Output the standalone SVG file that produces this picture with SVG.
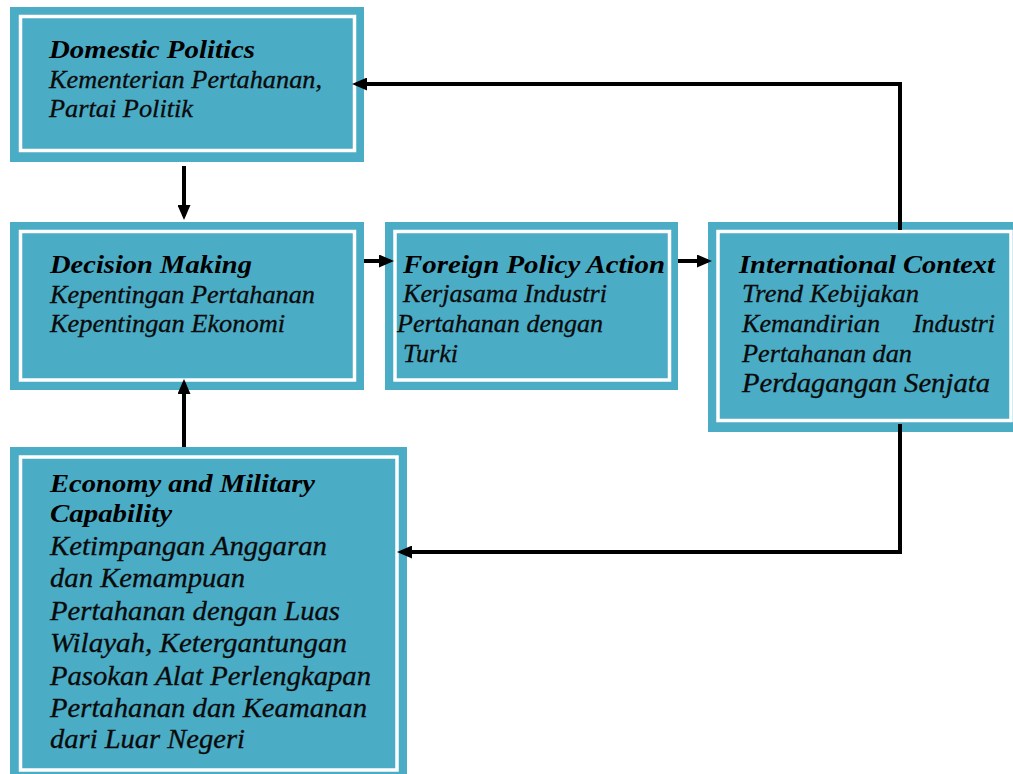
<svg xmlns="http://www.w3.org/2000/svg" width="1013" height="774" viewBox="0 0 1013 774">
  <style>
    .frame { fill: #4BACC6; }
    .inner { fill: none; stroke: #FFFFFF; stroke-width: 3.5; }
    .title { font-family: "Liberation Serif", "Times New Roman", serif; font-style: italic; font-weight: bold; font-size: 25px; fill: #000; }
    .body { font-family: "Liberation Serif", "Times New Roman", serif; font-style: italic; font-size: 25px; fill: #0a0a0a; stroke: #0a0a0a; stroke-width: 0.3; }
    .body.big { font-size: 26.5px; }
    .link { fill: none; stroke: #000; stroke-width: 4; stroke-linejoin: miter; marker-end: url(#head); }
  </style>
  <defs>
    <marker id="head" markerUnits="userSpaceOnUse" markerWidth="15" markerHeight="13" viewBox="0 0 15 13" refX="11" refY="6.5" orient="auto">
      <path d="M0,0 L15,6.5 L0,13 z" fill="#000"/>
    </marker>
  </defs>

  <rect width="1013" height="774" fill="#FFFFFF"/>

  <!-- Domestic Politics -->
  <g id="domestic-politics">
    <rect class="frame" x="10" y="7" width="354" height="155"/>
    <rect class="inner" x="20.5" y="16.5" width="334" height="134"/>
    <text class="title" x="49" y="58" textLength="206" lengthAdjust="spacingAndGlyphs">Domestic Politics</text>
    <text class="body" x="49" y="88" textLength="273" lengthAdjust="spacingAndGlyphs">Kementerian Pertahanan,</text>
    <text class="body" x="49" y="117" textLength="144" lengthAdjust="spacingAndGlyphs">Partai Politik</text>
  </g>

  <!-- Decision Making -->
  <g id="decision-making">
    <rect class="frame" x="10" y="222" width="354" height="168"/>
    <rect class="inner" x="20.5" y="231.5" width="334" height="148.5"/>
    <text class="title" x="50" y="273" textLength="202" lengthAdjust="spacingAndGlyphs">Decision Making</text>
    <text class="body" x="50" y="303" textLength="265" lengthAdjust="spacingAndGlyphs">Kepentingan Pertahanan</text>
    <text class="body" x="50" y="332" textLength="235" lengthAdjust="spacingAndGlyphs">Kepentingan Ekonomi</text>
  </g>

  <!-- Foreign Policy Action -->
  <g id="foreign-policy-action">
    <rect class="frame" x="385" y="222" width="293" height="168"/>
    <rect class="inner" x="395" y="231.5" width="274.5" height="148.5"/>
    <text class="title" x="403" y="273" textLength="262" lengthAdjust="spacingAndGlyphs">Foreign Policy Action</text>
    <text class="body" x="403" y="302" textLength="204" lengthAdjust="spacingAndGlyphs">Kerjasama Industri</text>
    <text class="body" x="397" y="332" textLength="206" lengthAdjust="spacingAndGlyphs">Pertahanan dengan</text>
    <text class="body" x="403" y="362" textLength="55" lengthAdjust="spacingAndGlyphs">Turki</text>
  </g>

  <!-- International Context -->
  <g id="international-context">
    <rect class="frame" x="708" y="222" width="320" height="210"/>
    <rect class="inner" x="718" y="231.5" width="293" height="189"/>
    <text class="title" x="739" y="273" textLength="256" lengthAdjust="spacingAndGlyphs">International Context</text>
    <text class="body" x="742" y="302" textLength="177" lengthAdjust="spacingAndGlyphs">Trend Kebijakan</text>
    <text class="body" y="332"><tspan x="742" textLength="138" lengthAdjust="spacingAndGlyphs">Kemandirian</tspan><tspan x="913" textLength="82" lengthAdjust="spacingAndGlyphs">Industri</tspan></text>
    <text class="body" x="742" y="362" textLength="170" lengthAdjust="spacingAndGlyphs">Pertahanan dan</text>
    <text class="body big" x="742" y="392" textLength="248" lengthAdjust="spacingAndGlyphs">Perdagangan Senjata</text>
  </g>

  <!-- Economy and Military Capability -->
  <g id="economy-military-capability">
    <rect class="frame" x="10" y="447" width="397" height="335"/>
    <rect class="inner" x="20.5" y="457" width="376.5" height="313"/>
    <text class="title" x="50" y="492" textLength="265" lengthAdjust="spacingAndGlyphs">Economy and Military</text>
    <text class="title" x="50" y="522" textLength="122" lengthAdjust="spacingAndGlyphs">Capability</text>
    <text class="body big" x="50" y="555" textLength="277" lengthAdjust="spacingAndGlyphs">Ketimpangan Anggaran</text>
    <text class="body big" x="50" y="587" textLength="195" lengthAdjust="spacingAndGlyphs">dan Kemampuan</text>
    <text class="body big" x="50" y="620" textLength="290" lengthAdjust="spacingAndGlyphs">Pertahanan dengan Luas</text>
    <text class="body big" x="50" y="652" textLength="297" lengthAdjust="spacingAndGlyphs">Wilayah, Ketergantungan</text>
    <text class="body big" x="50" y="685" textLength="321" lengthAdjust="spacingAndGlyphs">Pasokan Alat Perlengkapan</text>
    <text class="body big" x="50" y="717" textLength="317" lengthAdjust="spacingAndGlyphs">Pertahanan dan Keamanan</text>
    <text class="body big" x="50" y="748" textLength="195" lengthAdjust="spacingAndGlyphs">dari Luar Negeri</text>
  </g>

  <!-- Connectors -->
  <g id="connectors">
    <path class="link" d="M184,166 V216"/>
    <path class="link" d="M364,261 H390"/>
    <path class="link" d="M678,261 H708"/>
    <path class="link" d="M184,447 V383"/>
    <path class="link" d="M900,230 V84 H356"/>
    <path class="link" d="M900,424 V552 H401"/>
  </g>
</svg>
